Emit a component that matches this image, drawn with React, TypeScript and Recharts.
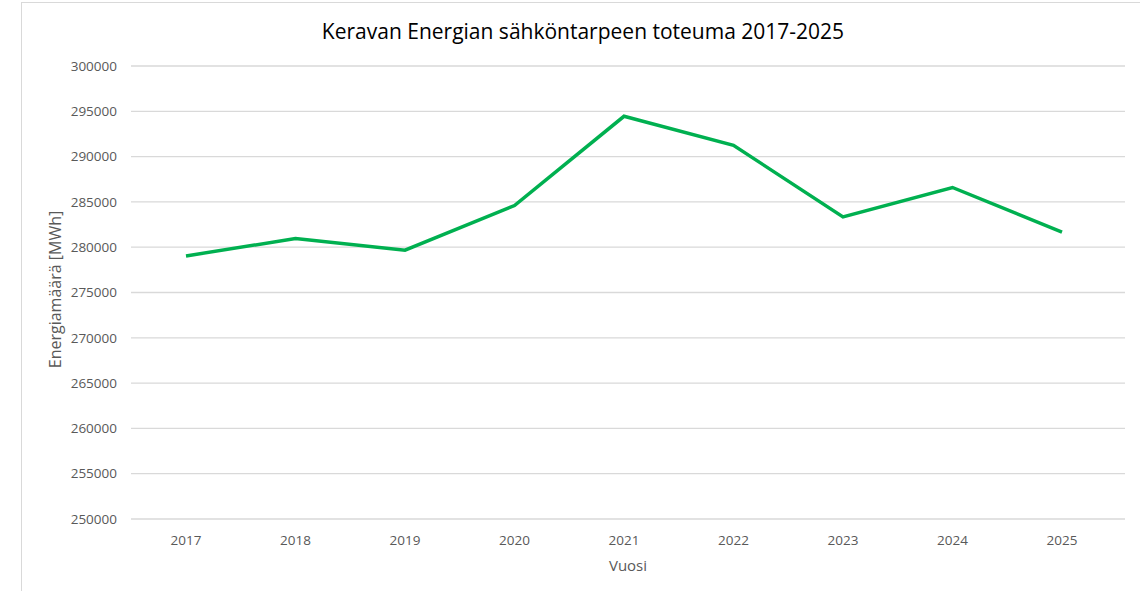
import React from 'react';
import { LineChart, Line, XAxis, YAxis, CartesianGrid } from 'recharts';

const years = ['2017', '2018', '2019', '2020', '2021', '2022', '2023', '2024', '2025'];
const energy = [279040, 280950, 279670, 284600, 294450, 291240, 283350, 286590, 281660];
const yTicks = [250000, 255000, 260000, 265000, 270000, 275000, 280000, 285000, 290000, 295000, 300000];

const chartData = years.map((year, i) => ({ year, energy: energy[i] }));

const font = '"Open Sans", sans-serif';

export default function App() {
  return (
    <div style={{ position: 'absolute', left: 0, top: 0, width: 1140, height: 591, background: '#fff', overflow: 'hidden', fontFamily: font }}>
      {/* chart frame */}
      <div style={{ position: 'absolute', left: 21, top: 2, width: 1140, height: 620, border: '1px solid #d9d9d9' }} />
      <div style={{ position: 'absolute', left: 0, top: 17, width: 1166, textAlign: 'center', fontSize: 21, color: '#000' }}>
        Keravan Energian sähköntarpeen toteuma 2017-2025
      </div>
      <div style={{ position: 'absolute', left: 0, top: 0 }}>
        <LineChart width={1140} height={591} data={chartData} margin={{ top: 66, right: 15, left: 0, bottom: 42 }}>
          <CartesianGrid vertical={false} stroke="#d9d9d9" strokeWidth={1.3} />
          <XAxis
            dataKey="year"
            axisLine={false}
            tickLine={false}
            tickMargin={10}
            height={30}
            padding={{ left: 55, right: 63 }}
            tick={{ fontSize: 13.5, fill: '#595959', fontFamily: font }}
            label={{ value: 'Vuosi', position: 'center', dy: 32, fontSize: 15, fill: '#595959', fontFamily: font }}
          />
          <YAxis
            domain={[250000, 300000]}
            ticks={yTicks}
            width={131}
            axisLine={false}
            tickLine={false}
            tickMargin={8}
            tick={{ fontSize: 13.5, fill: '#595959', fontFamily: font }}
            label={{ value: 'Energiamäärä [MWh]', angle: -90, position: 'center', dx: -10, dy: -3, fontSize: 16, fill: '#595959', fontFamily: font }}
          />
          <Line
            type="linear"
            dataKey="energy"
            stroke="#00b050"
            strokeWidth={3.5}
            dot={false}
            isAnimationActive={false}
          />
        </LineChart>
      </div>
    </div>
  );
}
